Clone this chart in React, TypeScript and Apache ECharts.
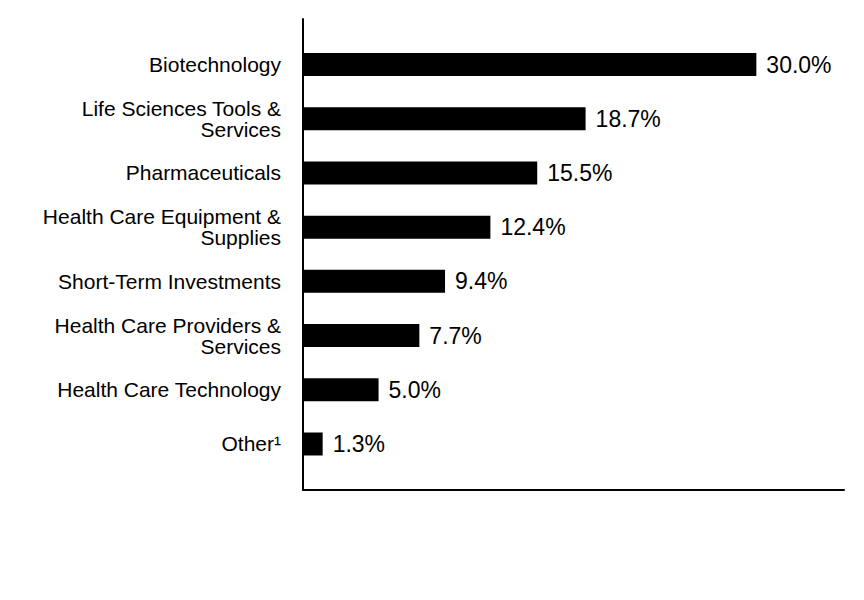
import React, { useEffect, useRef } from "react";
import * as echarts from "echarts";

const categories = [
  "Biotechnology",
  "Life Sciences Tools &\nServices",
  "Pharmaceuticals",
  "Health Care Equipment &\nSupplies",
  "Short-Term Investments",
  "Health Care Providers &\nServices",
  "Health Care Technology",
  "Other¹",
];
const values = [30.0, 18.7, 15.5, 12.4, 9.4, 7.7, 5.0, 1.3];
const axisMax = 35.8;

const FONT = "'Liberation Sans', Arial, sans-serif";

export default function App() {
  const ref = useRef<HTMLDivElement>(null);
  useEffect(() => {
    if (!ref.current) return;
    const chart = echarts.init(ref.current, null, { renderer: "svg" });
    chart.setOption({
      animation: false,
      backgroundColor: "#ffffff",
      textStyle: { fontFamily: FONT },
      grid: [
        { left: 303, right: 20, top: 19, bottom: 110, containLabel: false },
        { left: 303, right: 20, top: 37.4, bottom: 128.9, containLabel: false },
      ],
      xAxis: [
        {
          gridIndex: 0,
          type: "value",
          min: 0,
          max: axisMax,
          axisLine: { show: true, lineStyle: { color: "#000", width: 2 } },
          axisTick: { show: false },
          axisLabel: { show: false },
          splitLine: { show: false },
        },
        {
          gridIndex: 1,
          type: "value",
          min: 0,
          max: axisMax,
          show: false,
          splitLine: { show: false },
        },
      ],
      yAxis: [
        {
          gridIndex: 0,
          type: "value",
          min: 0,
          max: 1,
          axisLine: { show: true, lineStyle: { color: "#000", width: 2 } },
          axisTick: { show: false },
          axisLabel: { show: false },
          splitLine: { show: false },
        },
        {
          gridIndex: 1,
          type: "category",
          data: categories,
          inverse: true,
          axisLine: { show: false },
          axisTick: { show: false },
          splitLine: { show: false },
          axisLabel: {
            margin: 22,
            color: "#000",
            fontSize: 21,
            lineHeight: 21,
            fontFamily: FONT,
            align: "right",
          },
        },
      ],
      series: [
        {
          type: "bar",
          xAxisIndex: 1,
          yAxisIndex: 1,
          data: values,
          barWidth: 23,
          itemStyle: { color: "#000" },
          label: {
            show: true,
            position: "right",
            distance: 10,
            color: "#000",
            fontSize: 23,
            fontFamily: FONT,
            formatter: (p: any) => p.value.toFixed(1) + "%",
          },
        },
      ],
    });
    return () => chart.dispose();
  }, []);
  return <div ref={ref} style={{ width: 864, height: 600, position: "absolute", left: 0, top: 0 }} />;
}
